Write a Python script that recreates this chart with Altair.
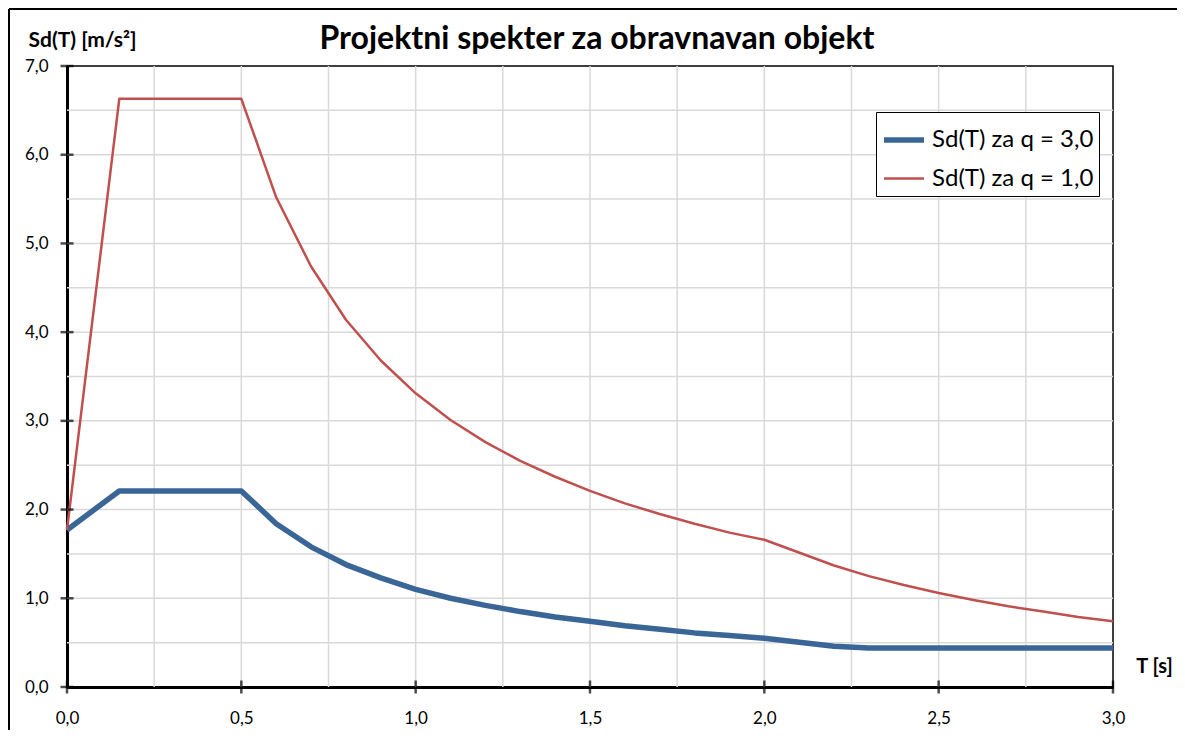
import altair as alt
import pandas as pd

# ---- data ----
T = [0.0, 0.15, 0.2, 0.3, 0.4, 0.5, 0.6, 0.7, 0.8, 0.9, 1.0, 1.1, 1.2, 1.3, 1.4,
     1.5, 1.6, 1.7, 1.8, 1.9, 2.0, 2.2, 2.3, 2.4, 2.5, 2.6, 2.7, 2.8, 2.9, 3.0]
sd_q3 = [1.77, 2.21, 2.21, 2.21, 2.21, 2.21, 1.84, 1.58, 1.38, 1.23, 1.10, 1.00, 0.92, 0.85, 0.79,
         0.74, 0.69, 0.65, 0.61, 0.58, 0.55, 0.46, 0.44, 0.44, 0.44, 0.44, 0.44, 0.44, 0.44, 0.44]
sd_q1 = [1.77, 6.63, 6.63, 6.63, 6.63, 6.63, 5.52, 4.74, 4.14, 3.68, 3.31, 3.01, 2.76, 2.55, 2.37,
         2.21, 2.07, 1.95, 1.84, 1.74, 1.66, 1.37, 1.25, 1.15, 1.06, 0.98, 0.91, 0.85, 0.79, 0.74]
series_names = ["Sd(T) za q = 3,0", "Sd(T) za q = 1,0"]
series_colors = ["#3A6597", "#C0504D"]
series_widths = [5.5, 2.5]

x_ticks = [0.0, 0.5, 1.0, 1.5, 2.0, 2.5, 3.0]
y_ticks = [0, 1, 2, 3, 4, 5, 6, 7]
x_grid = [0.25, 0.5, 0.75, 1.0, 1.25, 1.5, 1.75, 2.0, 2.25, 2.5, 2.75]
y_grid = [0.5, 1.0, 1.5, 2.0, 2.5, 3.0, 3.5, 4.0, 4.5, 5.0, 5.5, 6.0, 6.5]

title_text = "Projektni spekter za obravnavan objekt"
y_title = "Sd(T) [m/s²]"
x_title = "T [s]"

W, H = 1046, 621
FONT = "Lato"

rows = []
for name, vals in zip(series_names, [sd_q3, sd_q1]):
    for t, v in zip(T, vals):
        rows.append({"T": t, "Sd": v, "series": name})
df = pd.DataFrame(rows)

xscale = alt.Scale(domain=[0, 3], nice=False, zero=True)
yscale = alt.Scale(domain=[0, 7], nice=False, zero=True)
label_expr = "replace(format(datum.value, '.1f'), '.', ',')"

xaxis = alt.Axis(
    values=x_ticks, labelExpr=label_expr, ticks=False, grid=False, labelFlush=False,
    domainColor="black", domainWidth=3, labelFont=FONT, labelFontSize=17,
    labelColor="black", labelPadding=23, title=x_title, titleFont=FONT,
    titleFontSize=20, titleFontWeight="bold", titleColor="black",
    titleAngle=0, titleX=1087, titleY=-21, titleAlign="center", titleBaseline="middle")
yaxis = alt.Axis(
    values=y_ticks, labelExpr=label_expr, ticks=False, grid=False, labelFlush=False,
    domainColor="black", domainWidth=3, labelFont=FONT, labelFontSize=17,
    labelColor="black", labelPadding=19, title=y_title, titleFont=FONT,
    titleFontSize=21, titleFontWeight="bold", titleColor="black",
    titleAngle=0, titleX=-39, titleY=-26, titleAlign="left", titleBaseline="middle")

vgrid = alt.Chart(pd.DataFrame({"g": x_grid})).mark_rule(color="#D9D9D9", strokeWidth=1.5).encode(
    x=alt.X("g:Q", scale=xscale, axis=xaxis), y=alt.value(0), y2=alt.value(H))
hgrid = alt.Chart(pd.DataFrame({"g": y_grid})).mark_rule(color="#D9D9D9", strokeWidth=1.5).encode(
    y=alt.Y("g:Q", scale=yscale, axis=yaxis), x=alt.value(0), x2=alt.value(W))

legend_kw = dict(title=None, orient="none", legendX=809, legendY=46,
                 symbolType="stroke", symbolSize=1600, labelFont=FONT,
                 labelFontSize=24, labelColor="black", rowPadding=5,
                 padding=5, strokeColor="black", fillColor="white",
                 labelOffset=5, labelLimit=0)

lines = alt.Chart(df).mark_line(strokeCap="butt", strokeJoin="round").encode(
    x=alt.X("T:Q", scale=xscale, axis=xaxis),
    y=alt.Y("Sd:Q", scale=yscale, axis=yaxis),
    color=alt.Color("series:N", sort=series_names,
                    scale=alt.Scale(domain=series_names, range=series_colors),
                    legend=alt.Legend(**legend_kw)),
    strokeWidth=alt.StrokeWidth("series:N", sort=series_names,
                                scale=alt.Scale(domain=series_names, range=series_widths),
                                legend=alt.Legend(**legend_kw)),
)

yt = alt.Chart(pd.DataFrame({"v": y_ticks})).mark_tick(
    orient="horizontal", size=13, thickness=2.5, color="black").encode(
    y=alt.Y("v:Q", scale=yscale, axis=yaxis), x=alt.value(0))
xt = alt.Chart(pd.DataFrame({"v": x_ticks})).mark_tick(
    orient="vertical", size=13, thickness=2.5, color="black").encode(
    x=alt.X("v:Q", scale=xscale, axis=xaxis), y=alt.value(H))

title_mark = alt.Chart(pd.DataFrame({"t": [title_text]})).mark_text(
    font=FONT, fontSize=32, fontWeight="bold", color="black", align="center",
    baseline="middle").encode(text="t:N", x=alt.value(530), y=alt.value(-27))

border_left = alt.Chart(pd.DataFrame({"a": [0]})).mark_rule(color="black", strokeWidth=2).encode(
    x=alt.value(-58), y=alt.value(-57), y2=alt.value(H + 60))
border_top = alt.Chart(pd.DataFrame({"a": [0]})).mark_rule(color="black", strokeWidth=2).encode(
    x=alt.value(-58), x2=alt.value(W + 70), y=alt.value(-57))

chart = alt.layer(vgrid, hgrid, lines, yt, xt, title_mark, border_left, border_top).properties(
    width=W, height=H,
    autosize=alt.AutoSizeParams(type="none"),
    padding={"left": 59, "top": 58, "right": 64, "bottom": 43},
).configure_view(stroke="black", strokeWidth=1.5)

chart.save("out.html", embed_options={"renderer": "svg", "actions": False})
